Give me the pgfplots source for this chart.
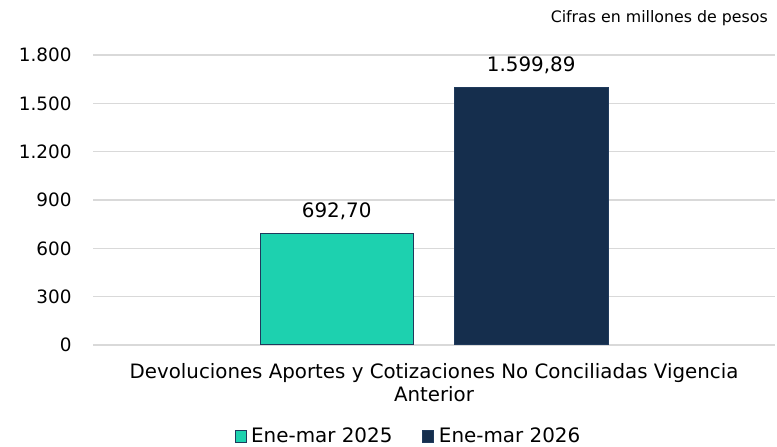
\documentclass[border=0pt]{standalone}
\usepackage{pgfplots}
\pgfplotsset{compat=1.18}
\usepackage{fontspec}
\setmainfont{DejaVu Sans}
\definecolor{teal1}{HTML}{1DD1AF}
\definecolor{navy1}{HTML}{152E4D}
\definecolor{edge1}{HTML}{1F3A5C}
\definecolor{grid1}{HTML}{D9D9D9}
\begin{document}
\begin{tikzpicture}[x=1pt,y=1pt]
\path[use as bounding box] (0,0) rectangle (777,447);
\node[anchor=base east, inner sep=0pt, font=\fontsize{15.8}{18}\selectfont] at (768,424) {Cifras en millones de pesos};
\begin{axis}[
  at={(93pt,102pt)}, anchor=south west,
  scale only axis, width=682pt, height=290pt,
  xmin=-1, xmax=1, ymin=0, ymax=1800,
  ytick={0,300,600,900,1200,1500,1800},
  xtick={0},
  xticklabels={Devoluciones Aportes y Cotizaciones No Conciliadas Vigencia\\Anterior},
  xticklabel style={align=center, anchor=north, inner sep=0pt, yshift=-18pt, font=\fontsize{19.8}{23}\selectfont},
  yticklabel style={anchor=east, inner sep=0pt, xshift=-21.3pt, font=\fontsize{18.4}{20}\selectfont},
  /pgf/number format/.cd, use comma, 1000 sep={.}, assume math mode=true, /pgfplots/.cd,
  major tick length=0pt,
  axis line style={draw=none},
  ymajorgrids, grid style={grid1, line width=1.5pt},
  ybar=41pt, bar width=153.5pt,
  nodes near coords,
  every node near coord/.append style={anchor=base, yshift=16pt, inner sep=0pt, font=\fontsize{19.9}{22}\selectfont,
    /pgf/number format/.cd, fixed, fixed zerofill, precision=2, use comma, 1000 sep={.}, assume math mode=true},
  legend style={at={(0.4626,-0.314)}, anchor=center, draw=none, legend columns=2,
    font=\fontsize{19.9}{22}\selectfont,
    /tikz/every even column/.append style={column sep=28pt}},
  legend image code/.code={\path[draw=none, fill=none] (0pt,0pt) -- (14pt,0pt); \draw[#1] (0pt,-6pt) rectangle (11pt,6pt);},
]
\addplot[fill=teal1, draw=edge1, line width=1pt] coordinates {(0,692.70)};
\addplot[fill=navy1, draw=edge1, line width=1pt] coordinates {(0,1599.89)};
\legend{Ene-mar 2025, Ene-mar 2026}
\end{axis}
\end{tikzpicture}
\end{document}
